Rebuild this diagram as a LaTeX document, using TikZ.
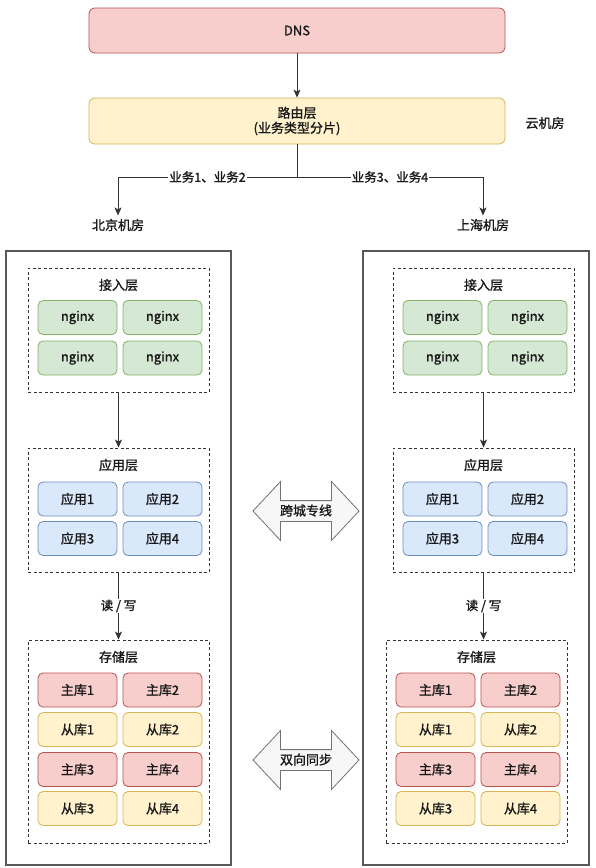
\documentclass[tikz,border=0pt]{standalone}
\usepackage{fontspec}
\setmainfont{Noto Sans CJK SC}[RawFeature={embolden=1.2}]
\usepackage{xcolor}
\usetikzlibrary{arrows.meta,shapes.arrows}

\definecolor{redfill}{HTML}{F8CECC}
\definecolor{redline}{HTML}{B85450}
\definecolor{yelfill}{HTML}{FFF2CC}
\definecolor{yelline}{HTML}{D6B656}
\definecolor{grnfill}{HTML}{D5E8D4}
\definecolor{grnline}{HTML}{82B366}
\definecolor{blufill}{HTML}{DAE8FC}
\definecolor{bluline}{HTML}{6C8EBF}

\begin{document}
\begin{tikzpicture}[x=1pt, y=-1pt,
  font=\fontsize{13}{15}\selectfont, text=black!90,
  cell/.style={rounded corners=5pt, line width=0.8pt, minimum width=79pt, minimum height=34pt, inner sep=0pt},
  redcell/.style={cell, draw=redline, fill=redfill},
  yelcell/.style={cell, draw=yelline, fill=yelfill},
  grncell/.style={cell, draw=grnline, fill=grnfill},
  blucell/.style={cell, draw=bluline, fill=blufill},
  topbox/.style={rounded corners=6pt, line width=0.8pt, minimum width=416pt, minimum height=45pt, inner sep=0pt},
  layer/.style={draw=black!80, dash pattern=on 3pt off 2.5pt, line width=0.9pt, minimum width=181pt, inner sep=0pt},
  site/.style={draw=black!65, line width=1.1pt, minimum height=614pt, inner sep=0pt},
  link/.style={draw=black!80, line width=0.9pt, -{Stealth[length=8pt,width=7pt,inset=2pt]}},
  lbl/.style={fill=white, inner sep=1pt, font=\fontsize{12.5}{14}\selectfont},
  bigarrow/.style={double arrow, draw=black!55, fill=black!3, line width=0.8pt,
    double arrow head extend=19pt, double arrow tip angle=94, minimum height=106pt,
    inner xsep=0pt, inner ysep=3.5pt, text height=11pt, text depth=2pt}]
  % page
  \path[use as bounding box, fill=white] (0,0) rectangle (595,868);

  % cloud part
  \node[topbox, draw=redline, fill=redfill] (dns) at (297,30.5) {DNS};
  \node[topbox, draw=yelline, fill=yelfill, align=center, minimum height=46pt] (route) at (297,121) {路由层\\(业务类型分片)};
  \node (cloud) at (545,123) {云机房};
  \draw[link] (dns) -- (route);

  \coordinate (fork) at (297,177);
  \node (bjtxt) at (118,225) {北京机房};
  \node (shtxt) at (483,225) {上海机房};
  \draw[draw=black!80, line width=0.9pt] (route) -- (fork);
  \draw[link] (fork) -| node[lbl, pos=0.25] (biz12) {业务1、业务2} (bjtxt);
  \draw[link] (fork) -| node[lbl, pos=0.25] (biz34) {业务3、业务4} (shtxt);

  % the two sites
  \node[site, minimum width=225pt] (bj) at (118.5,558) {};
  \node[site, minimum width=226pt] (sh) at (476,558) {};

  \foreach \s/\dx/\dy in {bj/0/0, sh/365/358} {
    % access layer
    \node[layer, minimum height=124pt] (\s-acc) at (118.5+\dx,330) {};
    \node (\s-acct) at (118.5+\dx,285) {接入层};
    \foreach \n/\cx/\ry in {1/77.5/317.5, 2/162.5/317.5, 3/77.5/358, 4/162.5/358}
      \node[grncell] (\s-ng\n) at (\cx+\dx,\ry) {nginx};
    % application layer
    \node[layer, minimum height=124pt] (\s-app) at (118.5+\dx,510) {};
    \node (\s-appt) at (118.5+\dx,465) {应用层};
    \foreach \n/\cx/\ry in {1/77.5/499, 2/162.5/499, 3/77.5/538.5, 4/162.5/538.5}
      \node[blucell] (\s-app\n) at (\cx+\dx,\ry) {应用\n};
    % storage layer
    \node[layer, minimum height=203pt] (\s-sto) at (118.5+\dy,741.5) {};
    \node (\s-stot) at (118.5+\dy,657) {存储层};
    \foreach \n/\cx/\ry in {1/77.5/690, 2/162.5/690, 3/77.5/769.5, 4/162.5/769.5}
      \node[redcell] (\s-m\n) at (\cx+\dy,\ry) {主库\n};
    \foreach \n/\cx/\ry in {1/77.5/729.5, 2/162.5/729.5, 3/77.5/808.5, 4/162.5/808.5}
      \node[yelcell] (\s-s\n) at (\cx+\dy,\ry) {从库\n};

    \draw[link] (\s-acc) -- (\s-app);
    \draw[link] (\s-app.south) -- node[lbl] (\s-rw) {读 / 写} (\s-app.south |- \s-sto.north);
  }

  % links between the sites
  \node[bigarrow] (xcity) at (306,511) {跨城专线};
  \node[bigarrow] (sync) at (306,760) {双向同步};
\end{tikzpicture}
\end{document}
